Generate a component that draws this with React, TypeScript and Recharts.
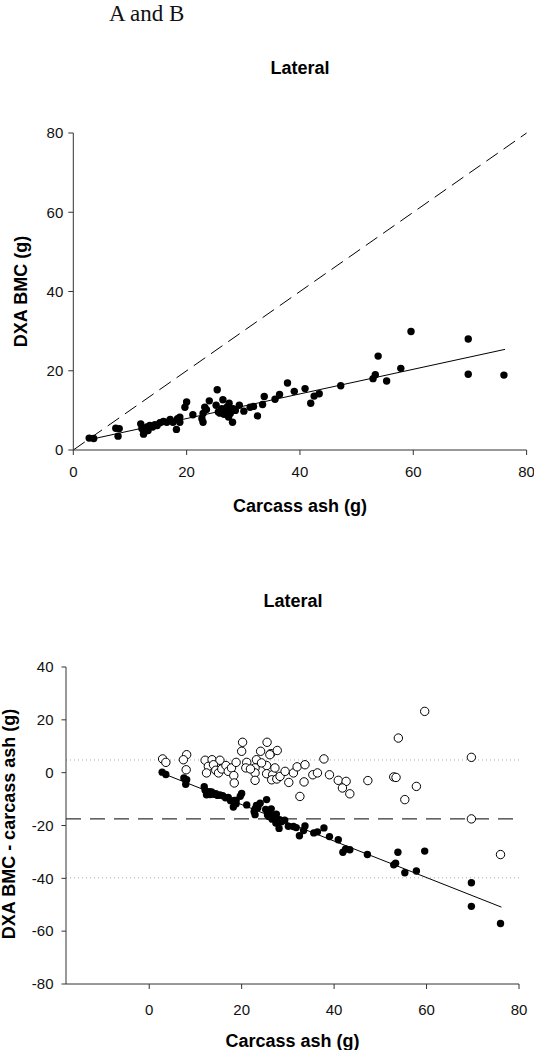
import React from 'react';
import { ScatterChart, Scatter, XAxis, YAxis, ReferenceLine } from 'recharts';

// ---- Panel A: Lateral, DXA BMC vs carcass ash ----
const ashA = [
  2.8, 3.6, 7.5, 8.1, 7.9, 11.9, 12.1, 12.5, 12.4, 13.0, 13.5, 13.2, 14.0, 14.4, 14.8, 15.3, 15.9, 16.5,
  17.1, 17.6, 18.2, 18.4, 18.8, 18.8, 20.0, 19.7, 21.1, 22.7, 22.9, 22.9, 23.2, 23.5, 24.0, 25.4, 26.4,
  25.2, 25.6, 26.2, 26.8, 27.1, 27.5, 27.7, 28.1, 27.4, 28.2, 29.3, 30.1, 31.2, 31.8, 32.5, 33.4, 33.7,
  35.6, 36.4, 37.8, 39.0, 40.9, 41.9, 42.5, 43.4, 47.2, 52.9, 53.3, 53.8, 55.3, 57.8, 59.6, 69.7, 69.7,
  76.0, 25.9, 26.6, 28.6,
];
const bmcA = [
  3.0, 2.9, 5.5, 5.4, 3.5, 6.6, 5.4, 4.5, 4.0, 5.8, 6.2, 4.9, 5.8, 6.4, 6.2, 6.9, 7.2, 7.0,
  7.7, 7.0, 5.2, 7.9, 8.3, 7.0, 12.1, 10.8, 8.9, 7.9, 7.0, 9.2, 10.8, 10.2, 12.4, 15.2, 12.7,
  11.3, 9.6, 10.4, 9.6, 10.8, 11.8, 9.2, 7.0, 8.3, 10.4, 11.3, 9.8, 10.8, 11.0, 8.6, 11.5, 13.5,
  12.8, 14.0, 16.9, 14.8, 15.5, 11.8, 13.6, 14.2, 16.2, 18.0, 19.0, 23.7, 17.4, 20.6, 29.9, 28.0, 19.1,
  18.9, 9.3, 9.0, 10.0,
];

// ---- Panel B: difference (DXA BMC - carcass ash) ----
const diffFilled = [
  0.2, -0.7, -2.0, -2.7, -4.4, -5.3, -6.7, -8.0, -8.4, -7.2, -7.3, -8.3, -8.2, -8.0, -8.6, -8.4, -8.7, -9.5,
  -9.4, -10.6, -13.0, -10.5, -10.5, -11.8, -7.9, -8.9, -12.2, -14.8, -15.9, -13.7, -12.4, -13.3, -11.6, -10.2, -13.7,
  -13.9, -16.0, -15.8, -17.2, -16.3, -15.7, -18.5, -21.1, -19.1, -17.8, -18.0, -20.3, -20.4, -20.8, -23.9, -21.9, -20.2,
  -22.8, -22.4, -20.9, -24.2, -25.4, -30.1, -28.9, -29.2, -31.0, -34.9, -34.3, -30.1, -37.9, -37.2, -29.7, -41.7, -50.6,
  -57.1, -16.6, -17.6, -18.6,
];
const ashOpen = [
  2.9, 3.6, 8.1, 7.4, 8.0, 12.1, 13.6, 15.3, 12.8, 13.9, 12.4, 14.4, 15.0, 15.7, 16.6, 17.1, 17.8, 18.8, 18.3, 18.4,
  20.2, 20.0, 24.1, 25.5, 26.3, 27.7, 23.2, 21.1, 20.9, 22.9, 22.9, 22.9, 25.4, 25.4, 26.7, 26.5, 27.6, 28.3, 29.4,
  30.2, 31.2, 32.0, 33.7, 33.5, 32.6, 35.4, 36.4, 37.8, 39.0, 40.9, 42.6, 41.8, 43.4, 47.3, 52.9, 53.4, 55.3, 57.8,
  69.7, 69.7, 76.0, 53.9, 59.6, 21.9, 24.3, 26.1, 27.2,
];
const diffOpen = [
  5.2, 3.9, 6.8, 4.9, 1.1, 4.7, 4.9, 4.7, 2.4, 3.0, -0.1, 0.9, -0.1, 1.4, 2.7, 0.5, 1.8, 3.9, -1.1, -3.9,
  11.5, 8.1, 8.1, 11.5, 7.2, 8.4, 4.9, 3.9, 1.8, 1.8, -0.1, -2.9, 2.7, -0.4, -0.8, -2.7, -2.4, -1.4, 0.5,
  -3.7, -0.1, 2.2, 3.0, -3.5, -9.0, -0.8, -0.1, 5.2, -0.8, -2.9, -3.3, -5.8, -8.0, -3.0, -1.6, -1.8, -10.2, -5.2,
  5.8, -17.5, -31.0, 13.1, 23.2, 1.4, 3.7, 6.8, 1.8,
];

// fitted lines & limits
const fitAsh = [2.8, 76.2];
const fitBmc = [2.6, 25.4];
const fitDiff = [-0.2, -50.9];
const identityLine = [0, 80];
const meanDiff = -17.5;
const upperLimit = 4.8;
const lowerLimit = -39.8;

const xTicks = [0, 20, 40, 60, 80];
const yTicksA = [0, 20, 40, 60, 80];
const yTicksB = [-80, -60, -40, -20, 0, 20, 40];

const FONT = '"Liberation Sans", Arial, Helvetica, sans-serif';

const dataA = ashA.map((x, i) => ({ x, y: bmcA[i] }));
const dataBFilled = ashA.map((x, i) => ({ x, y: diffFilled[i] }));
const dataBOpen = ashOpen.map((x, i) => ({ x, y: diffOpen[i] }));

const FilledDot = (p: any) => <circle cx={p.cx} cy={p.cy} r={3.7} fill="#000" />;
const OpenDot = (p: any) => (
  <circle cx={p.cx} cy={p.cy} r={4.2} fill="#fff" stroke="#000" strokeWidth={1} />
);

const axisColor = '#333';
const tickStyle = { fontSize: 15, fill: '#111', fontFamily: FONT };

export default function App() {
  return (
    <div style={{ position: 'absolute', left: 0, top: 0, width: 534, height: 1050, background: '#fff' }}>
      <div style={{ position: 'absolute', left: 0, top: 0 }}>
        <ScatterChart width={534} height={530} margin={{ top: 133, right: 7.4, bottom: 50, left: 23.3 }}>
          <XAxis
            type="number"
            dataKey="x"
            domain={[0, 80]}
            ticks={xTicks}
            height={30}
            tickSize={5}
            tickMargin={11}
            stroke={axisColor}
            tick={tickStyle}
            allowDataOverflow
          />
          <YAxis
            type="number"
            dataKey="y"
            domain={[0, 80]}
            ticks={yTicksA}
            width={50}
            tickSize={5}
            tickMargin={5}
            stroke={axisColor}
            tick={tickStyle}
            allowDataOverflow
          />
          <ReferenceLine
            segment={[{ x: identityLine[0], y: identityLine[0] }, { x: identityLine[1], y: identityLine[1] }]}
            stroke="#000"
            strokeWidth={1}
            strokeDasharray="14 7"
          />
          <ReferenceLine
            segment={[{ x: fitAsh[0], y: fitBmc[0] }, { x: fitAsh[1], y: fitBmc[1] }]}
            stroke="#000"
            strokeWidth={1}
          />
          <Scatter data={dataA} shape={FilledDot} isAnimationActive={false} />
        </ScatterChart>
      </div>
      <div style={{ position: 'absolute', left: 0, top: 540 }}>
        <ScatterChart width={534} height={510} margin={{ top: 127, right: 15, bottom: 36, left: 16 }}>
          <XAxis
            type="number"
            dataKey="x"
            domain={[-18, 80]}
            ticks={xTicks}
            height={30}
            tickSize={5}
            tickMargin={15}
            stroke={axisColor}
            tick={tickStyle}
            allowDataOverflow
          />
          <YAxis
            type="number"
            dataKey="y"
            domain={[-80, 40]}
            ticks={yTicksB}
            width={50}
            tickSize={4.5}
            tickMargin={8}
            stroke={axisColor}
            tick={tickStyle}
            allowDataOverflow
          />
          <ReferenceLine y={upperLimit} stroke="#aaa" strokeWidth={1} strokeDasharray="1 3" />
          <ReferenceLine y={lowerLimit} stroke="#aaa" strokeWidth={1} strokeDasharray="1 3" />
          <ReferenceLine y={meanDiff} stroke="#000" strokeWidth={1} strokeDasharray="15 9" />
          <ReferenceLine
            segment={[{ x: fitAsh[0], y: fitDiff[0] }, { x: fitAsh[1], y: fitDiff[1] }]}
            stroke="#000"
            strokeWidth={1}
          />
          <Scatter data={dataBOpen} shape={OpenDot} isAnimationActive={false} />
          <Scatter data={dataBFilled} shape={FilledDot} isAnimationActive={false} />
        </ScatterChart>
      </div>
      <svg
        width={534}
        height={1050}
        style={{ position: 'absolute', left: 0, top: 0, pointerEvents: 'none' }}
      >
        <text x={109} y={21} fontFamily='"Liberation Serif", "Times New Roman", serif' fontSize={23} fill="#111">
          A and B
        </text>
        <text x={300} y={74} textAnchor="middle" fontFamily={FONT} fontSize={18} fontWeight="bold" fill="#000">
          Lateral
        </text>
        <text
          x={26.5}
          y={291.5}
          textAnchor="middle"
          transform="rotate(-90, 26.5, 291.5)"
          fontFamily={FONT}
          fontSize={18}
          fontWeight="bold"
          fill="#000"
        >
          DXA BMC (g)
        </text>
        <text x={300} y={511.5} textAnchor="middle" fontFamily={FONT} fontSize={18} fontWeight="bold" fill="#000">
          Carcass ash (g)
        </text>
        <text x={293} y={607} textAnchor="middle" fontFamily={FONT} fontSize={18} fontWeight="bold" fill="#000">
          Lateral
        </text>
        <text
          x={15}
          y={824}
          textAnchor="middle"
          transform="rotate(-90, 15, 824)"
          fontFamily={FONT}
          fontSize={18}
          fontWeight="bold"
          fill="#000"
        >
          DXA BMC - carcass ash (g)
        </text>
        <text x={292.5} y={1047} textAnchor="middle" fontFamily={FONT} fontSize={18} fontWeight="bold" fill="#000">
          Carcass ash (g)
        </text>
      </svg>
    </div>
  );
}
